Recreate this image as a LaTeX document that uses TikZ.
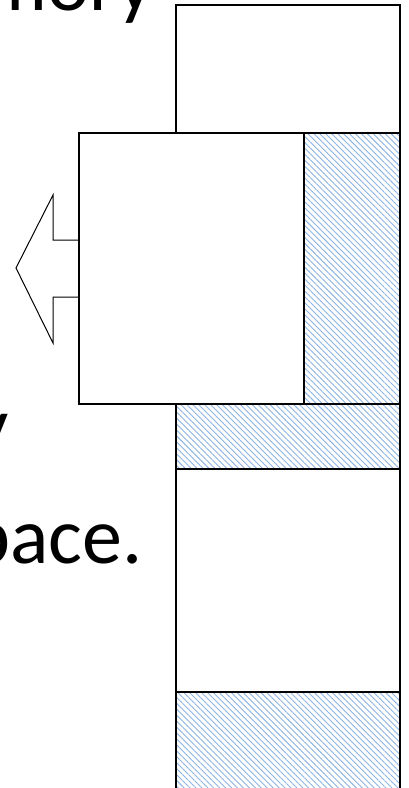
\documentclass[tikz,border=0pt]{standalone}
\usepackage{fontspec}
\setmainfont{Carlito}
\usetikzlibrary{patterns.meta}
\definecolor{hatchblue}{HTML}{8DB4E2}
\begin{document}
\begin{tikzpicture}[x=1pt,y=-1pt,
  box/.style={draw=black,line width=2pt,fill=white,inner sep=0pt,outer sep=0pt,rectangle},
  hatchbox/.style={draw=black,line width=2pt,inner sep=0pt,outer sep=0pt,rectangle,
    preaction={fill=white},
    pattern={Lines[angle=-45,distance=4.2pt,line width=0.9pt]},pattern color=hatchblue},
  lbl/.style={inner sep=0pt,anchor=base east,font=\fontsize{80}{96}\selectfont},
  arrowshape/.style={draw=black,line width=1pt,fill=white,line join=miter}]
\useasboundingbox (0,0) rectangle (409,788);
\clip (0,0) rectangle (409,788);
\fill[white] (0,0) rectangle (409,788);
% text fragments
\node[lbl] (t1) at (154,10) {memory};
\node[lbl] (t2) at (9,452) {y};
\node[lbl] (t3) at (143,563) {space.};
% memory column
\node[box, minimum width=224pt, minimum height=128pt] (top) at (288,69) {};
\node[hatchbox, minimum width=224pt, minimum height=65pt] (strip) at (288,436.5) {};
\node[box, minimum width=224pt, minimum height=223pt] (mid) at (288,580.5) {};
\node[hatchbox, minimum width=224pt, minimum height=108pt] (bot) at (288,746) {};
% arrow
\coordinate (a1) at (79,240);
\coordinate (a2) at (79,297);
\draw[arrowshape] (a1) -- (53,240) -- (53,195) -- (16,268) -- (53,343) -- (53,297) -- (a2);
% overlay block
\node[box, minimum width=225pt, minimum height=271pt] (blk) at (191.5,268.5) {};
\node[hatchbox, minimum width=96pt, minimum height=271pt] (blkh) at (352,268.5) {};
\end{tikzpicture}
\end{document}
